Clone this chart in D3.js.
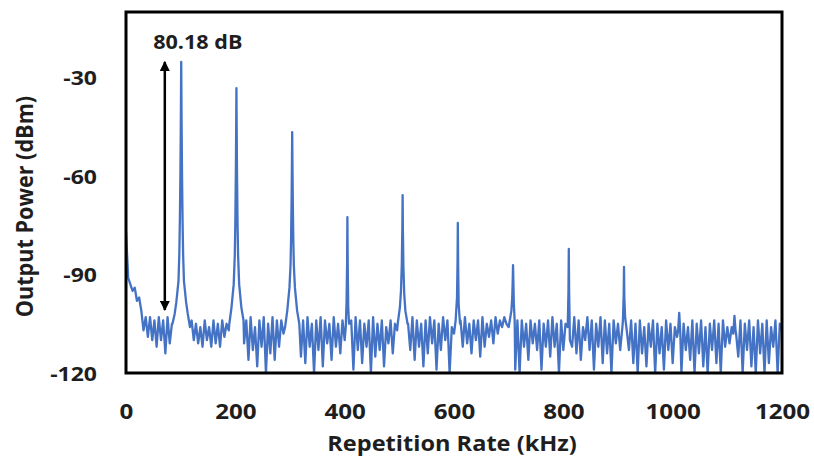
<!DOCTYPE html>
<html>
<head>
<meta charset="utf-8">
<script src="https://cdn.jsdelivr.net/npm/d3@7"></script>
<style>
  html, body { margin: 0; padding: 0; background: #fff; }
  svg { display: block; }
  text { font-family: "Open Sans", "Liberation Sans", sans-serif; font-weight: 700; fill: #1e1e1e; }
</style>
</head>
<body>
<svg id="chart" width="814" height="469"></svg>
<script>
// ---------- data ----------
const xTicks = [0, 200, 400, 600, 800, 1000, 1200];
const yTicks = [-120, -90, -60, -30];
const xTitle = "Repetition Rate (kHz)";
const yTitle = "Output Power (dBm)";
const annotationText = "80.18 dB";
const annotationFreq = 71;            // kHz, position of the double arrow
const annotationTop = -25.2;          // dBm, fundamental peak level
const annotationBottom = -100.8;      // dBm, noise floor level

// noise floor sampled every 4 kHz from 0 to 1200 kHz
const noiseStart = 0;
const noiseStep = 4;
const noiseLevels = [
  -77,-91,-93,-95,-94,-98,-97,-101,-107,-103,
  -109,-103,-110,-104,-112,-103,-110,-104,-114,-103,
  -111,-105,-108,-106,-104,-104,-104,-104,-106,-108,
  -104,-110,-105,-111,-106,-112,-104,-110,-106,-112,
  -104,-111,-105,-112,-104,-109,-105,-107,-106,-108,
  -105,-105,-105,-105,-111,-104,-116,-103,-113,-106,
  -118,-104,-112,-103,-120,-105,-114,-103,-116,-104,
  -112,-104,-108,-106,-106,-106,-106,-106,-112,-103,
  -115,-104,-117,-103,-112,-105,-120,-104,-113,-103,
  -118,-104,-111,-105,-116,-103,-112,-105,-114,-104,
  -110,-106,-112,-104,-119,-103,-113,-104,-117,-105,
  -112,-104,-120,-103,-115,-105,-113,-104,-118,-106,
  -111,-104,-114,-105,-107,-106,-106,-106,-106,-105,
  -113,-103,-116,-104,-112,-105,-118,-104,-114,-103,
  -111,-104,-119,-105,-113,-103,-110,-104,-120,-106,
  -108,-106,-106,-104,-112,-103,-111,-105,-114,-104,
  -110,-104,-115,-103,-112,-105,-109,-104,-111,-103,
  -108,-104,-106,-103,-105,-106,-106,-106,-119,-104,
  -120,-104,-112,-105,-116,-104,-111,-105,-113,-104,
  -119,-105,-112,-104,-115,-103,-112,-105,-120,-104,
  -113,-105,-107,-106,-112,-103,-114,-104,-116,-106,
  -110,-103,-113,-104,-119,-105,-112,-103,-117,-104,
  -114,-105,-120,-104,-111,-105,-113,-106,-106,-107,
  -113,-104,-117,-105,-120,-104,-114,-106,-118,-105,
  -112,-104,-120,-105,-114,-106,-119,-104,-113,-105,
  -117,-106,-109,-107,-120,-105,-113,-106,-116,-104,
  -120,-105,-114,-104,-118,-106,-120,-105,-113,-104,
  -117,-105,-120,-104,-112,-106,-111,-106,-105,-108,
  -115,-104,-120,-105,-113,-104,-118,-106,-120,-104,
  -114,-105,-120,-104,-117,-106,-112,-104,-120,-105,
  -107
];

// harmonic peaks: centre frequency (kHz) and profile as [offset kHz, dBm]
const peakFreqs = [101, 202, 304, 405, 506, 607, 708, 810, 911, 1012, 1113];
const peakProfiles = [
  [[-16,-105],[-12,-102],[-9,-98.5],[-5,-92],[-3.5,-84],[-2.5,-74],[-1.5,-60],[-0.7,-44],[0,-25.2],[0.7,-44],[1.5,-60],[2.5,-74],[3.5,-84],[5,-92],[9,-98.5],[12,-102],[16,-106]],
  [[-13,-105],[-9,-100],[-5,-93],[-3,-84],[-2,-74],[-1,-58],[-0.4,-44],[0,-33.2],[0.4,-44],[1,-58],[2,-74],[3,-84],[5,-93],[9,-100],[13,-104]],
  [[-13,-106],[-9,-101],[-5,-94],[-3,-87],[-2,-79],[-1,-66],[-0.4,-55],[0,-46.6],[0.4,-55],[1,-66],[2,-79],[3,-87],[5,-94],[9,-101],[13,-105]],
  [[-3,-106],[-1.5,-98],[-0.5,-86],[0,-72.5],[0.5,-86],[1.5,-100],[3,-105]],
  [[-9,-105],[-5,-100],[-3,-95],[-1.5,-87],[-0.5,-76],[0,-65.8],[0.5,-76],[1.5,-88],[3,-96],[5,-101],[9,-105]],
  [[-4,-104],[-1.5,-97],[-0.5,-86],[0,-74.3],[0.5,-86],[1.5,-99],[4,-105]],
  [[-6,-104],[-3,-101],[-1.5,-97],[-0.6,-92],[0,-87.1],[0.6,-92],[1.5,-99],[3,-104]],
  [[-2,-106],[-0.6,-95],[0,-82.2],[0.6,-95],[2,-110]],
  [[-2,-104],[-0.6,-96],[0,-87.7],[0.6,-97],[2,-103]],
  [[-2,-107],[0,-101.7],[2,-108]],
  [[-2,-108],[0,-102.6],[2,-107]]
];

// ---------- assemble trace ----------
const noisePts = noiseLevels.map((v, i) => ({ f: noiseStart + i * noiseStep, v }));
const spans = peakFreqs.map((pf, k) => {
  const prof = peakProfiles[k];
  return [pf + prof[0][0], pf + prof[prof.length - 1][0]];
});
const kept = noisePts.filter(p => !spans.some(([a, b]) => p.f >= a && p.f <= b));
const peakPts = [];
peakFreqs.forEach((pf, k) => peakProfiles[k].forEach(([o, v]) => peakPts.push({ f: pf + o, v })));
const trace = kept.concat(peakPts).sort((a, b) => a.f - b.f);

// ---------- layout ----------
const svg = d3.select("#chart");
const plot = { left: 126, right: 782, top: 12, bottom: 373 };
const x = d3.scaleLinear().domain([0, 1200]).range([plot.left, plot.right]);
const y = d3.scaleLinear().domain([-120, -10]).range([plot.bottom, plot.top]);
const SX = 1.15; // horizontal text stretch of the reference

svg.append("rect").attr("width", 814).attr("height", 469).attr("fill", "#fff");

// clip
svg.append("defs").append("clipPath").attr("id", "clip")
  .append("rect").attr("x", plot.left).attr("y", plot.top)
  .attr("width", plot.right - plot.left).attr("height", plot.bottom - plot.top);

// trace
const line = d3.line().x(d => x(d.f)).y(d => y(d.v));
svg.append("path")
  .datum(trace)
  .attr("clip-path", "url(#clip)")
  .attr("fill", "none")
  .attr("stroke", "#4472C4")
  .attr("stroke-width", 2.3)
  .attr("stroke-linejoin", "round")
  .attr("d", line);

// frame
svg.append("rect")
  .attr("x", plot.left).attr("y", plot.top)
  .attr("width", plot.right - plot.left).attr("height", plot.bottom - plot.top)
  .attr("fill", "none").attr("stroke", "#000").attr("stroke-width", 3);

// axes
const fmt = d => String(d);
const xAxis = svg.append("g")
  .attr("transform", `translate(0,${plot.bottom})`)
  .call(d3.axisBottom(x).tickValues(xTicks).tickSize(0).tickPadding(0).tickFormat(fmt));
xAxis.select(".domain").remove();
xAxis.selectAll("text")
  .attr("y", 46).attr("dy", null).attr("x", 0)
  .style("font-size", "21px")
  .attr("transform", `scale(${SX},1)`);

const yAxis = svg.append("g")
  .attr("transform", `translate(${plot.left},0)`)
  .call(d3.axisLeft(y).tickValues(yTicks).tickSize(0).tickPadding(0).tickFormat(fmt));
yAxis.select(".domain").remove();
yAxis.selectAll("text")
  .attr("x", -29 / SX).attr("dy", "0.36em")
  .style("font-size", "20px")
  .attr("transform", `scale(${SX},1)`);

// axis titles
svg.append("text")
  .attr("transform", `translate(${(plot.left + plot.right) / 2 - 2},451) scale(${SX},1)`)
  .attr("text-anchor", "middle")
  .style("font-size", "20.5px")
  .text(xTitle);

svg.append("text")
  .attr("transform", `translate(33,${(plot.top + plot.bottom) / 2 + 14}) rotate(-90) scale(1.03,1.12)`)
  .attr("text-anchor", "middle")
  .style("font-size", "21px")
  .text(yTitle);

// annotation arrow
const defs = svg.select("defs");
defs.append("marker").attr("id", "ah").attr("viewBox", "0 0 10 10")
  .attr("refX", 9).attr("refY", 5).attr("markerWidth", 4).attr("markerHeight", 4)
  .attr("markerUnits", "strokeWidth").attr("orient", "auto-start-reverse")
  .append("path").attr("d", "M0,0 L10,5 L0,10 Z").attr("fill", "#000");

svg.append("line")
  .attr("x1", x(annotationFreq)).attr("x2", x(annotationFreq))
  .attr("y1", y(annotationTop)).attr("y2", y(annotationBottom))
  .attr("stroke", "#000").attr("stroke-width", 2.5)
  .attr("marker-start", "url(#ah)").attr("marker-end", "url(#ah)");

svg.append("text")
  .attr("transform", `translate(${x(annotationFreq) + 33},49) scale(1.08,1)`)
  .attr("text-anchor", "middle")
  .style("font-size", "20px")
  .text(annotationText);
</script>
</body>
</html>
